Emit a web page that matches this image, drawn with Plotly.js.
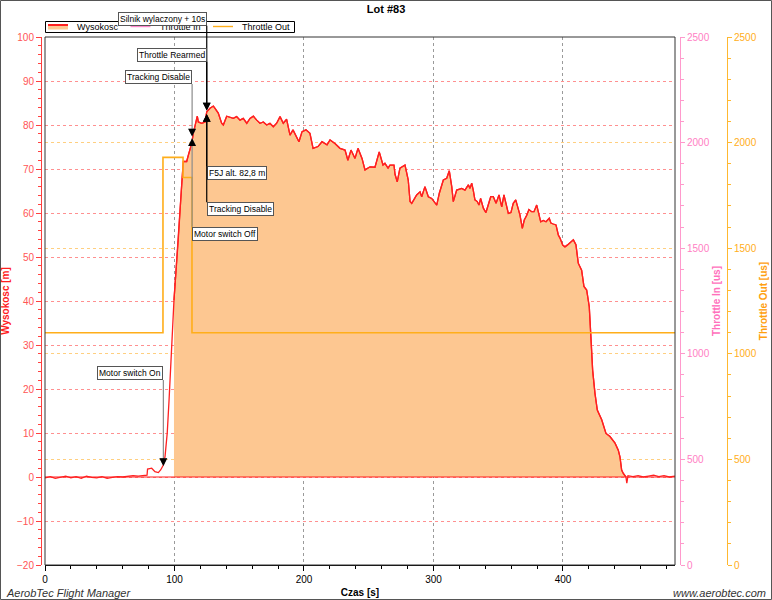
<!DOCTYPE html>
<html><head><meta charset="utf-8">
<script src="https://cdn.plot.ly/plotly-3.0.1.min.js"></script>
<style>html,body{margin:0;padding:0;background:#fff}#chart{width:772px;height:600px}</style>
</head><body><div id="chart"></div>
<script>
// ---- data ----
const timeS = [0,4,8,12,16,20,24,28,32,36,40,44,48,52,56,60,64,68,72,76,78.8,79.2,82.4,84.9,87.5,89.3,91.4,92.7,94.4,95.8,97.1,98.3,99.6,102.9,104.2,105.6,106.8,109.4,110.7,113.3,114.5,115.8,117.1,117.6,118.4,121.0,123.6,124.9,127.4,130.0,131.3,133.8,136.4,137.7,140.3,142.9,145.4,148.0,150.6,153.1,155.8,158.3,160.9,163.5,166.0,168.6,171.2,173.7,176.3,178.9,181.5,184.0,186.6,189.2,191.5,196.1,198.5,201.5,204.6,207.0,210.8,213.9,217.8,220.1,223.9,227.8,231.7,233.9,236.3,239.4,241.7,244.8,247.1,251.0,254.8,258.1,261.0,262.5,264.9,266.4,269.5,270.3,272.0,274.1,278.0,280.5,281.9,283.2,287.0,289.6,290.9,293.4,296.0,298.6,300.4,302.5,304.5,307.6,310.2,312.2,314.1,315.3,317.9,321.8,324.3,326.9,328.2,329.5,330.7,332.0,333.8,335.1,336.4,338.5,340.5,342.3,344.2,346.2,348.3,350.6,352.7,354.4,356.5,357.8,359.8,361.6,363.5,365.0,366.8,368.6,370.1,372.0,373.7,375.8,377.6,379.7,381.5,382.8,384.8,386.9,389.4,390.7,392.5,394.6,396.4,397.7,399.8,401.5,403.3,404.9,408.0,410.0,411.8,414.4,416.2,418.3,420.3,421.4,422.9,424.7,426.5,429.9,433.2,436.3,440.2,442.7,444.0,445.3,446.6,448.6,449.3,450.2,454,458,462,466,470,474,478,482,486.5];
const altitudeM = [-0.2,0.1,-0.3,-0.1,0.2,-0.2,0.1,-0.3,0.2,-0.1,-0.2,0.1,-0.3,-0.1,0.1,0.0,0.1,0.3,0.2,0.4,0.4,1.8,2.0,1.2,1.0,1.6,2.7,4.7,10.0,17.5,25.0,32.7,40.2,53.9,61.4,66.7,71.7,71.7,73.2,75.8,78.1,79.5,81.1,82.0,80.7,80.4,80.7,83.0,83.8,84.3,83.8,82.7,80.4,80.0,82.0,81.8,81.5,81.9,81.1,81.5,80.4,81.5,82.0,81.1,80.4,80.7,80.0,80.4,79.6,80.4,81.9,80.4,81.3,77.7,78.9,76.2,78.5,78.9,78.1,74.7,75.1,76.2,75.5,76.6,75.8,74.7,74.3,72.0,74.3,72.4,74.7,72.4,69.8,70.5,70.4,73.9,70.9,71.3,70.2,70.9,70.9,68.8,67.1,70.2,70.9,67.5,62.6,62.2,64.1,64.8,63.7,66.0,63.7,63.3,62.6,61.8,64.5,67.5,67.9,69.6,66.0,62.6,65.2,65.6,65.2,66.4,65.6,66.8,65.2,63.0,62.6,61.8,63.3,61.1,60.1,61.8,63.7,63.7,62.2,64.1,61.4,64.1,61.1,59.9,60.1,62.2,63.0,61.4,59.5,56.5,58.4,59.5,60.8,60.3,60.3,61.8,59.9,58.0,58.3,58.0,58.8,57.7,57.5,57.3,55.0,54.3,52.7,52.3,52.7,53.1,53.9,52.8,48.6,47.0,43.3,42.5,38.7,32.7,24.3,19.0,15.2,13.0,9.9,9.2,7.7,6.1,4.6,1.6,0.8,0.0,-1.4,0.3,0.1,0.3,0.0,0.2,0.4,0.1,0.3,0.0,0.2];
const throttleTimeS = [0, 91.1, 106.6, 113.5, 486.5];
const throttleOutUs = [1100, 1930, 1835, 1100, 1100];
const throttleInUs = [null];
const flightStartS = 99.6, flightEndS = 448.6;

const seriesNames = ['Wysokosc', 'Throttle In', 'Throttle Out'];
const seriesColors = ['#ff2020', '#ff88cc', '#ffae1a'];
const fillColor = '#fdc791';

const eventLabels = ['Silnik wylaczony + 10s','Throttle Rearmed','Tracking Disable','Motor switch Off','F5J alt. 82,8 m','Tracking Disable','Motor switch On'];
const eventTimes  = [124.9, 124.9, 113.6, 113.6, 124.9, 124.9, 91.4];
const eventAlts   = [83.3, 83.3, 77.4, 77.0, 82.5, 82.5, 2.5];
const eventOffsets = [-84.8, -48.8, -52.4, 88.5, 52, 88.3, -86];
const eventBelow  = [false, false, false, true, true, true, false];
const eventDark   = [true, true, false, false, true, true, false];

// ---- geometry ----
const W = 772, H = 600, L = 41, R = 45, T = 37, B = 35;
const PW = W - L - R, PH = H - T - B;
const px = p => (p - L) / PW;          // pixel x -> paper
const py = p => (H - B - p) / PH;      // pixel y -> paper
const FONT = 'Liberation Sans, Arial, sans-serif';

// ---- traces ----
const flightT = [], flightA = [];
timeS.forEach((t, i) => { if (t >= flightStartS && t <= flightEndS) { flightT.push(t); flightA.push(altitudeM[i]); } });

const traces = [
  {x: flightT, y: flightA, type: 'scatter', mode: 'lines', name: seriesNames[0], fill: 'tozeroy',
   fillcolor: fillColor, line: {color: seriesColors[0], width: 1.3}, yaxis: 'y', showlegend: false},
  {x: timeS, y: altitudeM, type: 'scatter', mode: 'lines', showlegend: false,
   line: {color: seriesColors[0], width: 1.3}, yaxis: 'y'},
  {x: [0], y: throttleInUs, type: 'scatter', mode: 'lines', name: seriesNames[1], showlegend: false,
   line: {color: seriesColors[1], width: 1.5}, yaxis: 'y2'},
  {x: throttleTimeS, y: throttleOutUs, type: 'scatter', mode: 'lines', name: seriesNames[2], showlegend: false,
   line: {color: seriesColors[2], width: 1.6, shape: 'hv'}, yaxis: 'y3'}
];

// ---- legend (box, swatches, names) ----
const legX0 = 45.5, legX1 = 294.5, legY0 = 21.5, legY1 = 32.5, legStep = 82.5, legSw = 20, legTxt = 27;
const shapes = [
  {type: 'rect', xref: 'paper', yref: 'paper', x0: px(legX0), x1: px(legX1), y0: py(legY1), y1: py(legY0),
   line: {color: '#000', width: 1}, fillcolor: '#fff', layer: 'above'},
  {type: 'rect', xref: 'paper', yref: 'paper', x0: px(48), x1: px(48 + legSw), y0: py(29.5), y1: py(25.5),
   line: {width: 0}, fillcolor: fillColor, layer: 'above'}
];
const legendNotes = [];
seriesNames.forEach((n, i) => {
  const sx = 48 + i * legStep;
  const ly = i === 0 ? 25 : 26.5;
  shapes.push({type: 'line', xref: 'paper', yref: 'paper', x0: px(sx), x1: px(sx + legSw), y0: py(ly), y1: py(ly),
               line: {color: seriesColors[i], width: i === 0 ? 2 : 1.4}, layer: 'above'});
  legendNotes.push({xref: 'paper', yref: 'paper', x: px(sx + legTxt), y: py(27), xanchor: 'left', yanchor: 'middle',
                    showarrow: false, text: n, font: {family: FONT, size: 9, color: '#000'}});
});
shapes.push(
  {type: 'line', xref: 'x domain', yref: 'y', x0: 0, x1: 1, y0: 0, y1: 0,
   line: {color: '#ff2020', width: 1.2}, layer: 'above'},
  {type: 'rect', xref: 'x domain', yref: 'y domain', x0: 0, x1: 1, y0: 0, y1: 1,
   line: {color: '#333', width: 1}, layer: 'above'},
  {type: 'rect', xref: 'paper', yref: 'paper', x0: px(0.5), x1: px(W - 0.5), y0: py(H - 0.5), y1: py(0.5),
   line: {color: '#555', width: 1}, layer: 'above'}
);

// ---- event annotations ----
const annotations = legendNotes.slice();
eventLabels.forEach((txt, i) => {
  annotations.push({
    x: eventTimes[i], y: eventAlts[i], xref: 'x', yref: 'y', text: txt,
    showarrow: true, ax: 0, ay: eventOffsets[i],
    xanchor: eventBelow[i] ? 'left' : 'right', yanchor: eventBelow[i] ? 'top' : 'bottom',
    arrowhead: 2, arrowsize: 1.3, arrowwidth: 1.2,
    arrowcolor: eventDark[i] ? '#000' : '#8c8c8c',
    bgcolor: '#fff', bordercolor: '#555', borderwidth: 1, borderpad: 1,
    font: {family: FONT, size: 8.5, color: '#000'}
  });
  if (!eventDark[i]) {
    // black arrow head on top of the grey leader line
    annotations.push({
      x: eventTimes[i], y: eventAlts[i], xref: 'x', yref: 'y', text: ' ',
      showarrow: true, ax: 0, ay: eventOffsets[i] > 0 ? 10 : -10,
      arrowhead: 2, arrowsize: 1.3, arrowwidth: 1.2, arrowcolor: '#000',
      font: {family: FONT, size: 2, color: 'rgba(0,0,0,0)'}
    });
  }
});
annotations.push(
  {xref: 'paper', yref: 'paper', x: px(4), y: py(593), xanchor: 'left', yanchor: 'middle',
   showarrow: false, text: 'AerobTec Flight Manager',
   font: {family: FONT, size: 11, color: '#333', style: 'italic'}},
  {xref: 'paper', yref: 'paper', x: px(768), y: py(593), xanchor: 'right', yanchor: 'middle',
   showarrow: false, text: 'www.aerobtec.com',
   font: {family: FONT, size: 11, color: '#333', style: 'italic'}}
);

const layout = {
  width: W, height: H,
  margin: {l: L, r: R, t: T, b: B, pad: 0},
  paper_bgcolor: '#fff', plot_bgcolor: '#fff',
  font: {family: FONT, size: 10, color: '#000'},
  title: {text: '<b>Lot #83</b>', font: {size: 11, color: '#000'}, x: 0.5, xref: 'container', xanchor: 'center',
          y: 1 - 9 / H, yref: 'container', yanchor: 'middle'},
  showlegend: false,
  xaxis: {domain: [4 / PW, 634 / PW], range: [0, 486.5], tick0: 0, dtick: 100,
          ticks: 'outside', ticklen: 5, tickcolor: '#000', showline: true, linecolor: '#000', linewidth: 1,
          showgrid: true, gridcolor: '#9a9a9a', griddash: 'dot', zeroline: false,
          tickfont: {size: 10, color: '#000'},
          minor: {dtick: 20, ticks: 'outside', ticklen: 3, tickcolor: '#000', showgrid: false},
          title: {text: '<b>Czas [s]</b>', font: {size: 10, color: '#000'}, standoff: 4}},
  yaxis: {range: [-20, 100], tick0: 0, dtick: 10, anchor: 'free', position: 0, side: 'left',
          showline: true, linecolor: '#ff4040', linewidth: 1,
          ticks: 'outside', ticklen: 5, tickcolor: '#ff4040', tickfont: {size: 10, color: '#ff5555'},
          showgrid: true, gridcolor: '#ff9090', griddash: 'dot', zeroline: false,
          minor: {dtick: 2, ticks: 'outside', ticklen: 3, tickcolor: '#ff4040', showgrid: false},
          title: {text: '<b>Wysokosc [m]</b>', font: {size: 10, color: '#ff2020'}, standoff: 6}},
  yaxis2: {overlaying: 'y', side: 'right', anchor: 'free', position: px(680),
           range: [0, 2500], tick0: 0, dtick: 500, showgrid: false, zeroline: false,
           showline: true, linecolor: '#ff99cc', linewidth: 1,
           ticks: 'outside', ticklen: 4, tickcolor: '#ff99cc', tickfont: {size: 10, color: '#ff80c4'},
           minor: {dtick: 100, ticks: 'outside', ticklen: 3, tickcolor: '#ff99cc', showgrid: false},
           title: {text: '<b>Throttle In [us]</b>', font: {size: 10, color: '#ff70bc'}, standoff: 4}},
  yaxis3: {overlaying: 'y', side: 'right', anchor: 'free', position: 1,
           range: [0, 2500], tick0: 0, dtick: 500, zeroline: false,
           showgrid: true, gridcolor: '#ffcf80', griddash: 'dot',
           showline: true, linecolor: '#ffb830', linewidth: 1,
           ticks: 'outside', ticklen: 4, tickcolor: '#ffb830', tickfont: {size: 10, color: '#ffae20'},
           minor: {dtick: 100, ticks: 'outside', ticklen: 3, tickcolor: '#ffb830', showgrid: false},
           title: {text: '<b>Throttle Out [us]</b>', font: {size: 10, color: '#ffa010'}, standoff: 4}},
  shapes: shapes,
  annotations: annotations
};

Plotly.newPlot('chart', traces, layout, {staticPlot: true, displayModeBar: false});
</script>
</body></html>
